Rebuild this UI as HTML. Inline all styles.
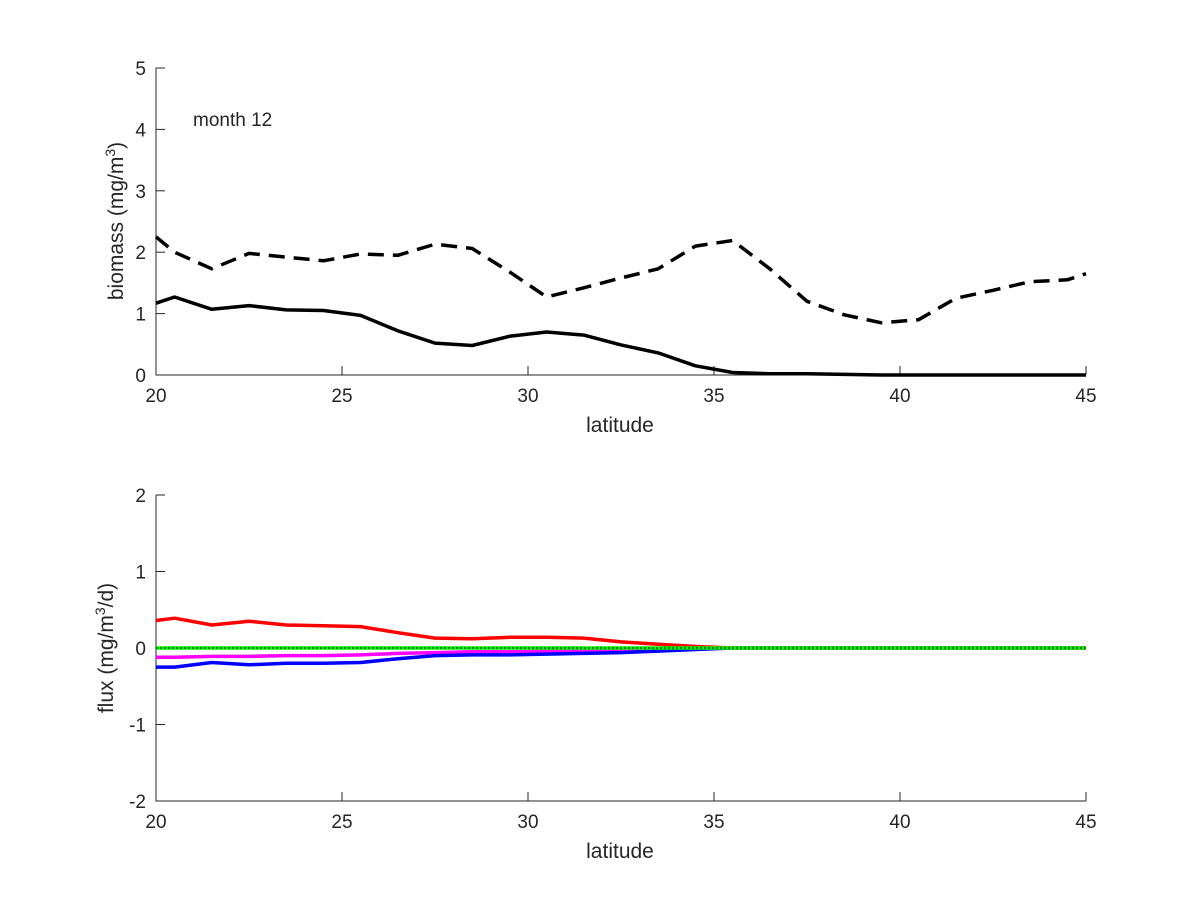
<!DOCTYPE html>
<html><head><meta charset="utf-8"><style>
body{margin:0;background:#fff}
svg text{font-family:"Liberation Sans",sans-serif;fill:#262626}
</style></head><body>
<svg id="s" width="1200" height="900" xmlns="http://www.w3.org/2000/svg">
<rect width="1200" height="900" fill="#fff"/>
<g stroke="#262626" stroke-width="1" fill="none">
<path d="M156,68V375H1086"/>
<path d="M156,495V801H1086"/>
</g>
<g id="ticks" stroke="#262626" stroke-width="1"></g>
<g id="lab" font-size="19"></g>
<text x="193" y="126" font-size="19">month 12</text>
<text x="620" y="432" font-size="21" text-anchor="middle">latitude</text>
<text x="620" y="858" font-size="21" text-anchor="middle">latitude</text>
<text transform="translate(123,221) rotate(-90)" font-size="21" text-anchor="middle">biomass (mg/m<tspan dy="-8" font-size="14">3</tspan><tspan dy="8">)</tspan></text>
<text transform="translate(113,648) rotate(-90)" font-size="21" text-anchor="middle">flux (mg/m<tspan dy="-8" font-size="14">3</tspan><tspan dy="8">/d)</tspan></text>
<g id="lines" fill="none" stroke-linejoin="round"></g>
</svg>
<script>
var NS="http://www.w3.org/2000/svg";
function X(l){return 156+(l-20)*37.2}
function YT(v){return 375-v*61.4}
function YB(v){return 648-v*76.5}
var t=document.getElementById('ticks'),lab=document.getElementById('lab'),ln=document.getElementById('lines');
function el(p,tag,a,txt){var e=document.createElementNS(NS,tag);for(var k in a)e.setAttribute(k,a[k]);if(txt!=null)e.textContent=txt;p.appendChild(e);return e}
[20,25,30,35,40,45].forEach(function(l){var x=X(l);
el(t,'line',{x1:x,x2:x,y1:375,y2:366});el(t,'line',{x1:x,x2:x,y1:801,y2:792});
el(lab,'text',{x:x,y:402,'text-anchor':'middle'},l);el(lab,'text',{x:x,y:828,'text-anchor':'middle'},l);});
for(var v=0;v<=5;v++){var y=YT(v);el(t,'line',{x1:156,x2:165,y1:y,y2:y});el(lab,'text',{x:146,y:y+7,'text-anchor':'end'},v);}
for(var v=-2;v<=2;v++){var y=YB(v);el(t,'line',{x1:156,x2:165,y1:y,y2:y});el(lab,'text',{x:146,y:y+7,'text-anchor':'end'},v);}
var L=[20,20.5,21.5,22.5,23.5,24.5,25.5,26.5,27.5,28.5,29.5,30.5,31.5,32.5,33.5,34.5,35.5,36.5,37.5,38.5,39.5,40.5,41.5,42.5,43.5,44.5,45];
function poly(vals,Y,attrs){var p=[];for(var i=0;i<vals.length;i++)p.push(X(L[i]).toFixed(1)+','+Y(vals[i]).toFixed(1));attrs.points=p.join(' ');el(ln,'polyline',attrs)}
var solid=[1.17,1.27,1.07,1.13,1.06,1.05,0.97,0.72,0.52,0.48,0.63,0.70,0.65,0.49,0.36,0.15,0.04,0.02,0.02,0.01,0,0,0,0,0,0,0];
var dash=[2.25,2.0,1.73,1.98,1.92,1.86,1.97,1.95,2.13,2.06,1.68,1.27,1.42,1.58,1.73,2.10,2.19,1.73,1.20,0.98,0.85,0.90,1.25,1.38,1.52,1.55,1.65];
poly(dash,YT,{stroke:'#000','stroke-width':3.5,'stroke-dasharray':'16,9'});
poly(solid,YT,{stroke:'#000','stroke-width':3.5});
var red=[0.36,0.39,0.30,0.35,0.30,0.29,0.28,0.20,0.13,0.12,0.14,0.14,0.13,0.08,0.05,0.02,0,0,0,0,0,0,0,0,0,0,0];
var blue=[-0.25,-0.25,-0.19,-0.22,-0.20,-0.20,-0.19,-0.14,-0.10,-0.09,-0.09,-0.08,-0.07,-0.06,-0.04,-0.02,0,0,0,0,0,0,0,0,0,0,0];
var mag=[-0.12,-0.12,-0.11,-0.11,-0.10,-0.10,-0.09,-0.07,-0.06,-0.05,-0.05,-0.04,-0.04,-0.03,-0.02,-0.01,0,0,0,0,0,0,0,0,0,0,0];
var zero=L.map(function(){return 0});
poly(mag,YB,{stroke:'#f0f','stroke-width':3.5});
poly(blue,YB,{stroke:'#00f','stroke-width':3.5});
poly(red,YB,{stroke:'#f00','stroke-width':3.5});
poly(zero,YB,{stroke:'#0f0','stroke-width':3.5});
poly(zero,YB,{stroke:'#000','stroke-width':1,'stroke-dasharray':'2,2'});
</script>
</body></html>
